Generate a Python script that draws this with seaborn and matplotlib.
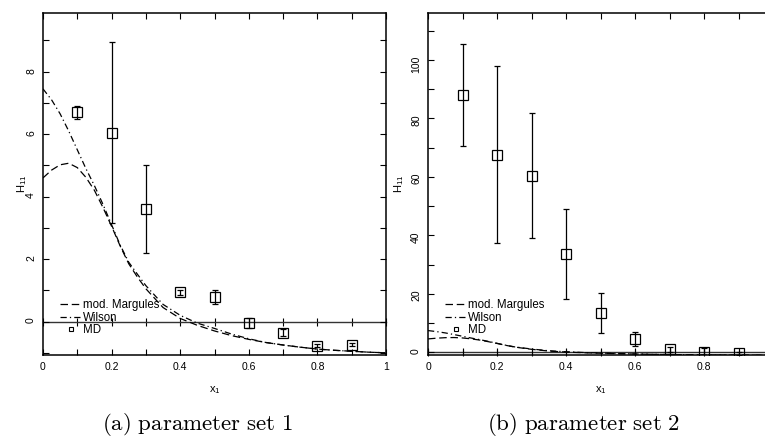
import numpy as np
import pandas as pd
import matplotlib
matplotlib.use('Agg')
import matplotlib.pyplot as plt
from matplotlib.lines import Line2D
from matplotlib.ticker import MultipleLocator, FuncFormatter
import seaborn as sns

# model curves (same in both panels)
x_model = [0.0, 0.025, 0.05, 0.075, 0.1, 0.125, 0.15, 0.175, 0.2, 0.225, 0.25, 0.275,
           0.3, 0.35, 0.4, 0.45, 0.5, 0.55, 0.6, 0.65, 0.7, 0.75, 0.8, 0.85, 0.9, 0.95, 1.0]
wilson = [7.45, 7.1, 6.65, 6.1, 5.5, 4.9, 4.35, 3.75, 3.1, 2.45, 1.9, 1.52,
          1.15, 0.55, 0.2, -0.05, -0.22, -0.4, -0.55, -0.67, -0.75, -0.82, -0.88, -0.92, -0.95, -0.98, -1.0]
margules = [4.6, 4.85, 5.02, 5.07, 4.93, 4.62, 4.2, 3.65, 3.05, 2.42, 1.85, 1.43,
            1.05, 0.45, 0.1, -0.12, -0.3, -0.45, -0.57, -0.67, -0.75, -0.82, -0.88, -0.92, -0.95, -0.98, -1.0]

# MD results
x_md = [0.1, 0.2, 0.3, 0.4, 0.5, 0.6, 0.7, 0.8, 0.9]
md_set1 = [6.7, 6.05, 3.6, 0.94, 0.78, -0.05, -0.35, -0.77, -0.74]
md_set1_err = [0.2, 2.9, 1.42, 0.08, 0.23, 0.15, 0.1, 0.05, 0.05]
md_set2 = [88.0, 67.6, 60.4, 33.7, 13.4, 4.6, 1.0, 0.0, -0.3]
md_set2_err = [17.3, 30.2, 21.3, 15.3, 6.8, 2.4, 1.0, 1.5, 0.5]

captions = [r'$\mathrm{(a)\ parameter\ set\ 1}$', r'$\mathrm{(b)\ parameter\ set\ 2}$']
legend_labels = ['mod. Margules', 'Wilson', 'MD']

sns.set_theme(style='ticks')
plt.rcParams['font.family'] = ['Liberation Sans', 'DejaVu Sans']
plt.rcParams['mathtext.fontset'] = 'custom'
plt.rcParams['mathtext.rm'] = 'Liberation Sans'
plt.rcParams['text.color'] = 'black'
plt.rcParams['axes.labelcolor'] = 'black'
plt.rcParams['xtick.color'] = 'black'
plt.rcParams['ytick.color'] = 'black'

curves = pd.DataFrame({'x': x_model, 'wilson': wilson, 'margules': margules})

DASHED = (0, (6, 3))
DASHDOT = (0, (5, 2.5, 1, 2.5))

fig = plt.figure(figsize=(7.65, 4.37), dpi=100)
ax1 = fig.add_axes([43 / 765, 82 / 437, 343 / 765, 342 / 437])
ax2 = fig.add_axes([428 / 765, 82 / 437, 345 / 765, 342 / 437])


def draw_panel(ax, md, md_err, ylim, ymajor, yminor, ylabel_x, caption, caption_x, xmax_label):
    sns.lineplot(data=curves, x='x', y='margules', ax=ax, color='black', lw=0.9, linestyle=DASHED)
    sns.lineplot(data=curves, x='x', y='wilson', ax=ax, color='black', lw=0.9, linestyle=DASHDOT)
    ax.errorbar(x_md, md, yerr=md_err, fmt='s', ms=6.8, mfc='none', mec='black', mew=0.9,
                ecolor='black', elinewidth=0.9, capsize=2.5, capthick=0.9)

    ax.set_xlim(0, 1)
    ax.set_ylim(*ylim)
    ax.xaxis.set_major_locator(MultipleLocator(0.2))
    ax.xaxis.set_minor_locator(MultipleLocator(0.1))
    ax.yaxis.set_major_locator(MultipleLocator(ymajor))
    ax.yaxis.set_minor_locator(MultipleLocator(yminor))
    ax.xaxis.set_major_formatter(FuncFormatter(lambda v, p: f'{v:g}' if v <= xmax_label + 1e-9 else ''))
    ax.yaxis.set_major_formatter(FuncFormatter(lambda v, p: f'{v:g}'))
    ax.tick_params(which='both', direction='in', top=True, right=True, length=4, width=0.8,
                   labelsize=7.5)
    ax.tick_params(axis='x', pad=5)
    ax.tick_params(axis='y', labelrotation=90, pad=5)
    for s in ax.spines.values():
        s.set_linewidth(1.1)
        s.set_color('black')

    # horizontal line at zero, with its own ticks
    zero = ax.secondary_xaxis(0, transform=ax.transData)
    zero.set_xticks(np.arange(0, 1.01, 0.1))
    zero.tick_params(direction='inout', length=6, width=0.8, labelbottom=False)
    zero.spines['bottom'].set_linewidth(1.0)
    zero.spines['bottom'].set_color('#333333')

    ax.set_xlabel(r'x$_\mathregular{1}$', fontsize=8)
    ax.set_ylabel(r'H$_\mathregular{11}$', fontsize=8)
    ax.xaxis.set_label_coords(0.5, -0.085)
    ax.yaxis.set_label_coords(ylabel_x, 0.5)

    handles = [Line2D([], [], color='black', lw=0.9, linestyle=DASHED),
               Line2D([], [], color='black', lw=0.9, linestyle=DASHDOT),
               Line2D([], [], marker='s', ms=3.5, mfc='none', mec='black', mew=0.8, linestyle='none')]
    ax.legend(handles, legend_labels, loc='upper left', bbox_to_anchor=(0.05, 0.163),
              frameon=False, fontsize=8.3, handlelength=1.8, handletextpad=0.2,
              borderpad=0, borderaxespad=0, labelspacing=0.05)

    fig.text(caption_x, 0.0275, caption, math_fontfamily='cm', fontsize=16.5,
             ha='center', va='center')


draw_panel(ax1, md_set1, md_set1_err, (-1.07, 9.88), 2, 1, -0.04, captions[0], 197.5 / 765, 1.0)
draw_panel(ax2, md_set2, md_set2_err, (-0.9, 116), 20, 10, -0.065, captions[1], 583.3 / 765, 0.8)

fig.savefig('out.png', dpi=100)
